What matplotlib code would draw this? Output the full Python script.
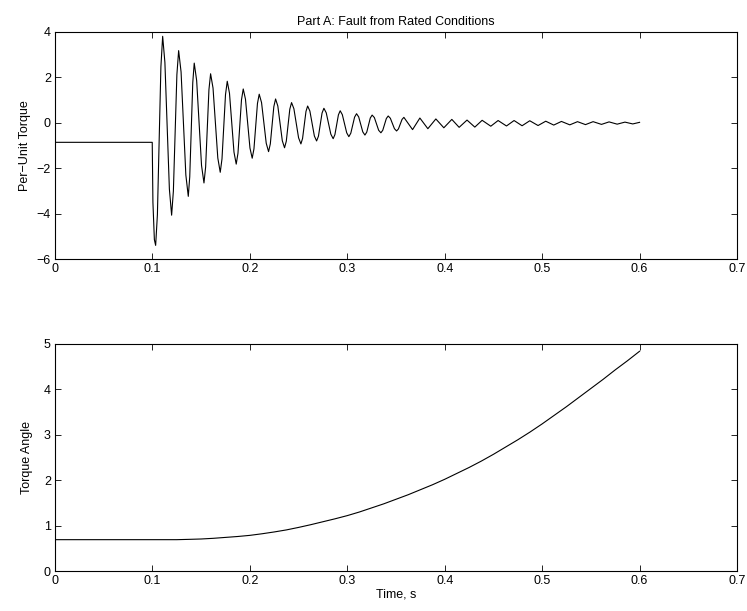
import numpy as np
import matplotlib.pyplot as plt

plt.rcParams['font.family'] = ['Liberation Sans', 'DejaVu Sans']

# --- Part A torque: pre-fault level, then extrema plus
# the shoulder points of each swing where the swing is large enough to matter
torque_t = [0.0, 0.0998, 0.1005, 0.1020,
            0.1033, 0.1051, 0.1087, 0.1105, 0.1128, 0.1174,
            0.1197, 0.1215, 0.1251, 0.1269, 0.1294, 0.1343,
            0.1368, 0.1383, 0.1414, 0.1429, 0.1454, 0.1504,
            0.1529, 0.1546, 0.1580, 0.1597, 0.1622, 0.1671,
            0.1696, 0.1714, 0.1750, 0.1768, 0.1791, 0.1837,
            0.1860, 0.1878, 0.1914, 0.1932, 0.1955, 0.2001,
            0.2024, 0.2042, 0.2078, 0.2096, 0.2120, 0.2168,
            0.2192, 0.2210, 0.2246, 0.2264, 0.2287, 0.2333,
            0.2356, 0.2374, 0.2410, 0.2428, 0.2452, 0.2500,
            0.2524, 0.2541, 0.2576, 0.2593, 0.2616, 0.2662,
            0.2685, 0.2704, 0.2741, 0.2760, 0.2784, 0.2831,
            0.2855, 0.2873, 0.2909, 0.2927, 0.2949, 0.2994,
            0.3016, 0.3036, 0.3075, 0.3095, 0.3117, 0.3159,
            0.3181, 0.3200, 0.3236, 0.3255, 0.3278, 0.3322,
            0.3345, 0.3364, 0.3401, 0.3420, 0.3442, 0.3484,
            0.3506, 0.3525, 0.3562, 0.3581,
            0.3670, 0.3745, 0.3827, 0.3909, 0.3991, 0.4073, 0.4148, 0.4229,
            0.4309, 0.4384, 0.4473, 0.4548, 0.4634, 0.4712, 0.4794, 0.4873,
            0.4958, 0.5037, 0.5119, 0.5198, 0.5284, 0.5363, 0.5445, 0.5523,
            0.5609, 0.5687, 0.5770, 0.5850, 0.5930, 0.6000]
torque_pu = [-0.86, -0.86, -3.50, -5.15,
             -5.40, -4.05, 2.47, 3.81, 2.66, -2.92,
             -4.07, -3.01, 2.12, 3.18, 2.24, -2.30,
             -3.24, -2.38, 1.77, 2.63, 1.86, -1.88,
             -2.65, -1.95, 1.46, 2.16, 1.53, -1.55,
             -2.18, -1.59, 1.24, 1.83, 1.30, -1.29,
             -1.82, -1.34, 1.01, 1.49, 1.04, -1.11,
             -1.56, -1.15, 0.85, 1.26, 0.89, -0.90,
             -1.27, -0.93, 0.71, 1.05, 0.74, -0.79,
             -1.10, -0.81, 0.60, 0.89, 0.62, -0.66,
             -0.93, -0.69, 0.50, 0.74, 0.52, -0.58,
             -0.80, -0.59, 0.43, 0.64, 0.44, -0.50,
             -0.70, -0.52, 0.35, 0.53, 0.36, -0.44,
             -0.61, -0.46, 0.25, 0.40, 0.26, -0.40,
             -0.54, -0.41, 0.21, 0.34, 0.23, -0.33,
             -0.44, -0.33, 0.19, 0.30, 0.20, -0.26,
             -0.36, -0.27, 0.15, 0.24,
             -0.30, 0.21, -0.26, 0.17, -0.22, 0.15, -0.20, 0.12,
             -0.19, 0.11, -0.15, 0.10, -0.14, 0.10, -0.13, 0.09,
             -0.12, 0.07, -0.10, 0.06, -0.09, 0.05, -0.08, 0.05,
             -0.07, 0.04, -0.06, 0.03, -0.05, 0.02]

# --- torque angle
angle_t = [0.0, 0.1, 0.1125, 0.125, 0.1375, 0.15, 0.1625, 0.175, 0.1875,
           0.2, 0.2125, 0.225, 0.2375, 0.25, 0.2625, 0.275, 0.2875,
           0.3, 0.3125, 0.325, 0.3375, 0.35, 0.3625, 0.375, 0.3875,
           0.4, 0.4125, 0.425, 0.4375, 0.45, 0.4625, 0.475, 0.4875,
           0.5, 0.5125, 0.525, 0.5375, 0.55, 0.5625, 0.575, 0.5875, 0.6]
angle = [0.69, 0.69, 0.69, 0.69, 0.697, 0.705, 0.72, 0.74, 0.76,
         0.785, 0.82, 0.86, 0.905, 0.96, 1.02, 1.085, 1.15,
         1.22, 1.30, 1.39, 1.48, 1.58, 1.68, 1.79, 1.90,
         2.02, 2.15, 2.28, 2.42, 2.57, 2.73, 2.89, 3.06,
         3.24, 3.43, 3.62, 3.82, 4.02, 4.22, 4.43, 4.63, 4.84]

W, H = 747, 611
fig = plt.figure(figsize=(W / 100, H / 100), dpi=100)

def axes_px(left, top, right, bottom):
    return fig.add_axes([left / W, 1 - bottom / H, (right - left) / W, (bottom - top) / H])

def style(ax):
    ax.tick_params(direction='in', top=True, right=True, labelsize=9,
                   length=4, width=0.6, pad=3)
    for s in ax.spines.values():
        s.set_linewidth(0.8)
    ax.set_xlim(0, 0.7)
    ax.set_xticks(np.arange(0, 0.71, 0.1))
    ax.set_xticklabels(['0', '0.1', '0.2', '0.3', '0.4', '0.5', '0.6', '0.7'])

ax1 = axes_px(55, 32, 737, 259)
ax1.plot(torque_t, torque_pu, color='black', lw=0.8)
style(ax1)
ax1.set_ylim(-6, 4)
ax1.set_yticks([-6, -4, -2, 0, 2, 4])
ax1.set_ylabel('Per\u2212Unit Torque', fontsize=9, labelpad=4)
ax1.set_title('Part A: Fault from Rated Conditions', fontsize=9, pad=5)

ax2 = axes_px(55, 344, 737, 571)
ax2.plot(angle_t, angle, color='black', lw=0.8)
style(ax2)
ax2.set_ylim(0, 5)
ax2.set_yticks([0, 1, 2, 3, 4, 5])
ax2.set_ylabel('Torque Angle', fontsize=9, labelpad=8)
ax2.set_xlabel('Time, s', fontsize=9, labelpad=1)

fig.savefig('out.png', dpi=100)
